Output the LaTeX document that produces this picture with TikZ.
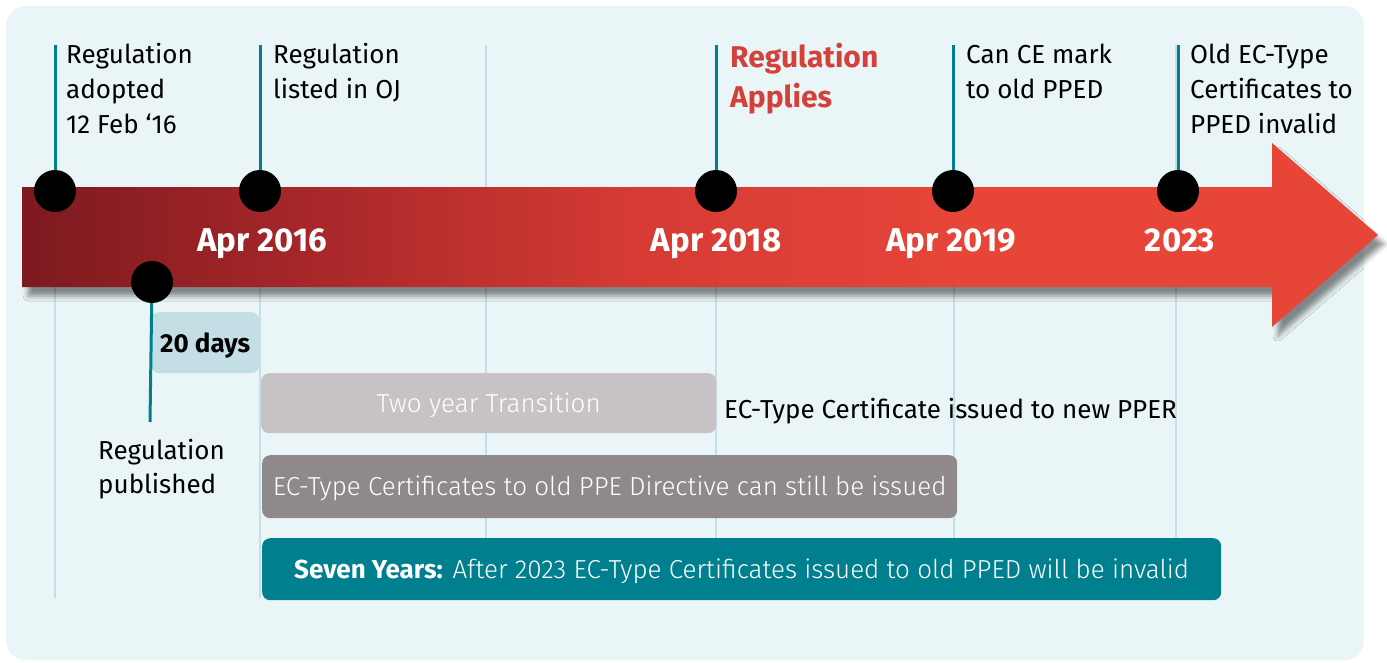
\documentclass[tikz,border=0pt]{standalone}
\usepackage{fontspec}
\setmainfont{Fira Sans}
\newfontfamily\lightfont{Fira Sans Light}
\usetikzlibrary{shadows.blur}
\definecolor{bgc}{HTML}{EAF5F7}
\definecolor{guidec}{HTML}{C6DFE6}
\definecolor{tealc}{HTML}{00808F}
\definecolor{barA}{HTML}{C7C2C5}
\definecolor{barB}{HTML}{8F898C}
\definecolor{barC}{HTML}{007F8E}
\definecolor{boxc}{HTML}{C4DEE5}
\definecolor{redtxt}{HTML}{D4403A}
\definecolor{gA}{HTML}{7C1A1F}
\definecolor{gB}{HTML}{A52629}
\definecolor{gC}{HTML}{D53B34}
\definecolor{gD}{HTML}{E74538}
\pgfdeclarehorizontalshading{redgrad}{100bp}{color(0bp)=(gA); color(25bp)=(gA); color(35bp)=(gB); color(47.5bp)=(gC); color(60bp)=(gD); color(100bp)=(gD)}
\begin{document}
\begin{tikzpicture}[x=1pt,y=-1pt,
  guide/.style={draw=guidec, line width=2pt},
  tealline/.style={draw=tealc, line width=3pt},
  dot/.style={circle, fill=black, minimum size=42pt, inner sep=0pt},
  toplabel/.style={anchor=base west, inner sep=0pt, align=left, text=black, font=\fontsize{26}{35}\selectfont},
  datelabel/.style={anchor=base, inner sep=0pt, text=white, font=\fontsize{33}{40}\selectfont\bfseries},
  bar/.style={anchor=north west, rectangle, rounded corners=8pt, inner sep=0pt, text=white,
    font=\fontsize{26}{30}\selectfont\lightfont, text height=18pt, text depth=0pt},
]
\useasboundingbox (0,0) rectangle (1387,662);
\fill[bgc, rounded corners=20pt] (6,6) rectangle (1364,660);
\foreach \x in {55,260,486,716,954,1176} \draw[guide] (\x,45) -- (\x,598);
% arrow
\path[shading=redgrad, blur shadow={shadow xshift=6pt, shadow yshift=-9pt, shadow blur radius=5pt, shadow opacity=45}]
  (22,187) -- (1272,187) -- (1272,143) -- (1378,235) -- (1272,327) -- (1272,287) -- (22,287) -- cycle;
% date labels
\node[datelabel] (y16) at (262,251) {Apr 2016};
\node[datelabel] (y18) at (716,251) {Apr 2018};
\node[datelabel] (y19) at (951,251) {Apr 2019};
\node[datelabel] (y23) at (1180,251) {2023};
% dots
\node[dot] (d1) at (55,191) {};
\node[dot] (d2) at (260,191) {};
\node[dot] (d3) at (152,282) {};
\node[dot] (d4) at (716,191) {};
\node[dot] (d5) at (953,191) {};
\node[dot] (d6) at (1178,191) {};
% tick lines
\coordinate (t1) at (55,45);
\coordinate (t2) at (260,45);
\coordinate (t4) at (716,45);
\coordinate (t5) at (953,45);
\coordinate (t6) at (1178,45);
\draw[tealline] (t1) -- (d1);
\draw[tealline] (t2) -- (d2);
\draw[tealline] (t4) -- (d4);
\draw[tealline] (t5) -- (d5);
\draw[tealline] (t6) -- (d6);
% top labels (anchored at baseline of last line)
\node[toplabel] (l1) at (66,133) {Regulation\\adopted\\12 Feb ‘16};
\node[toplabel] (l2) at (273,98) {Regulation\\listed in OJ};
\node[toplabel, text=redtxt, font=\fontsize{30}{40}\selectfont\bfseries] (l4) at (730,107) {Regulation\\Applies};
\node[toplabel] (l5) at (966,98) {Can CE mark\\to old PPED};
\node[toplabel] (l6) at (1190,133) {Old EC-Type\\Certificates to\\PPED invalid};
% 20 days
\node[anchor=north west, rectangle, rounded corners=8pt, fill=boxc, minimum width=108pt, minimum height=61pt, inner sep=0pt,
  font=\fontsize{26}{30}\selectfont\bfseries, text height=19pt, text depth=0pt] (days) at (151,312) {20 days};
\coordinate (t3) at (150,422);
\draw[tealline] (d3) -- (t3);
\node[toplabel, font=\fontsize{26}{34}\selectfont] (l3) at (98,493) {Regulation\\published};
% bars
\node[bar, fill=barA, minimum width=455pt, minimum height=60pt] (bar1) at (261,373) {Two year Transition};
\node[toplabel] (pper) at (724,418) {EC-Type Certificate issued to new PPER};
\node[bar, fill=barB, minimum width=695pt, minimum height=63pt] (bar2) at (262,455) {EC-Type Certificates to old PPE Directive can still be issued};
\node[bar, fill=barC, minimum width=959pt, minimum height=62pt] (bar3) at (262,538) {{\fontspec{Fira Sans}\bfseries Seven Years:} After 2023 EC-Type Certificates issued to old PPED will be invalid};
\end{tikzpicture}
\end{document}
